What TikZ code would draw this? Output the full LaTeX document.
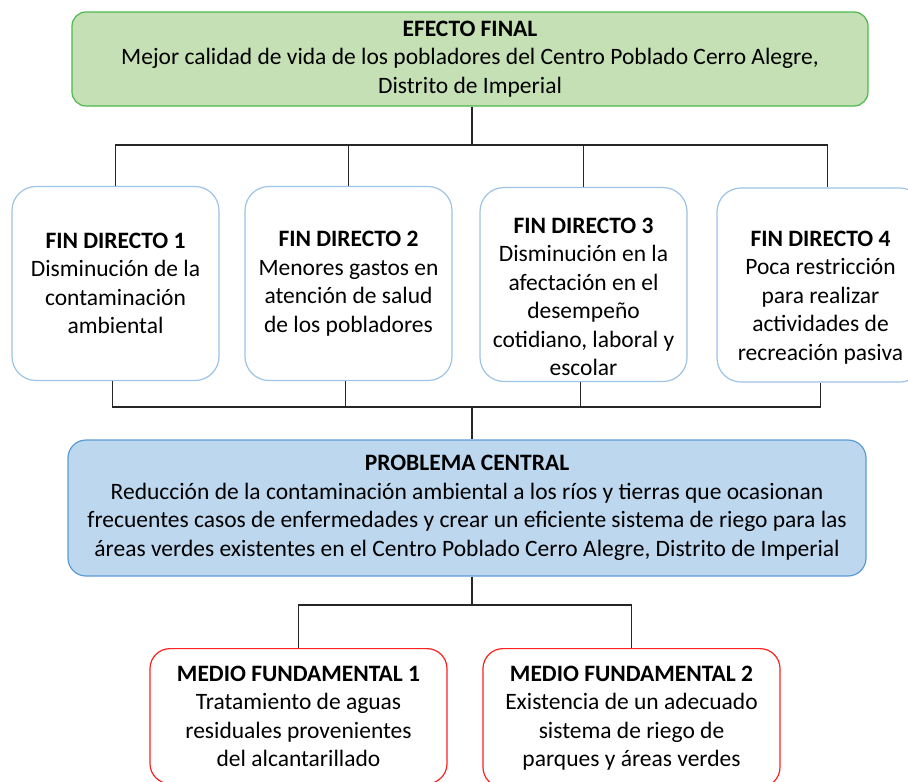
\documentclass[tikz,border=0pt]{standalone}
\usepackage{fontspec}
\setmainfont{Carlito}
\definecolor{effill}{HTML}{C5E0B4}
\definecolor{efdraw}{HTML}{4DB84D}
\definecolor{fddraw}{HTML}{9DC3E6}
\definecolor{pcfill}{HTML}{BDD7EE}
\definecolor{pcdraw}{HTML}{5B9BD5}
\definecolor{mfdraw}{HTML}{FF2020}
\newcommand{\lowtop}{\rule{0pt}{40pt}}
\begin{document}
\begin{tikzpicture}[x=1pt,y=-1pt,font=\fontsize{23.5}{28.5}\selectfont]
      \useasboundingbox (0,0) rectangle (908,782);
      \begin{scope}[every node/.style={draw=efdraw,fill=effill,line width=1.2pt,rounded corners=14pt,align=center,inner sep=0pt}]
        \node[minimum width=796pt,minimum height=94pt] (ef) at (470,59)
          {\textbf{EFECTO FINAL}\\Mejor calidad de vida de los pobladores del Centro Poblado Cerro Alegre,\\Distrito de Imperial};
      \end{scope}
      \begin{scope}[every node/.style={draw=fddraw,fill=white,line width=1.2pt,rounded corners=24pt,align=center,inner sep=0pt,minimum width=207pt,minimum height=194pt}]
        \node (fd_1) at (115.5,283.5) {\textbf{FIN DIRECTO 1}\\Disminución de la\\contaminación\\ambiental};
        \node (fd_2) at (348.5,283.5) {\textbf{FIN DIRECTO 2}\\Menores gastos en\\atención de salud\\de los pobladores};
        \node (fd_3) at (583.5,284.5) {\lowtop\textbf{FIN DIRECTO 3}\\Disminución en la\\afectación en el\\desempeño\\cotidiano, laboral y\\escolar};
        \node (fd_4) at (820.5,285) {\lowtop\textbf{FIN DIRECTO 4}\\Poca restricción\\para realizar\\actividades de\\recreación pasiva};
      \end{scope}
      \begin{scope}[every node/.style={draw=pcdraw,fill=pcfill,line width=1.2pt,rounded corners=18pt,align=center,inner sep=0pt}]
        \node[minimum width=798pt,minimum height=136pt] (pc) at (467,508)
          {\textbf{PROBLEMA CENTRAL}\\Reducción de la contaminación ambiental a los ríos y tierras que ocasionan\\frecuentes casos de enfermedades y crear un eficiente sistema de riego para las\\áreas verdes existentes en el Centro Poblado Cerro Alegre, Distrito de Imperial};
      \end{scope}
      \begin{scope}[every node/.style={draw=mfdraw,fill=white,line width=1.2pt,rounded corners=20pt,align=center,inner xsep=0pt,inner ysep=17pt,minimum width=297pt,anchor=north}]
        \node (mf_1) at (298.5,648) {\textbf{MEDIO FUNDAMENTAL 1}\\Tratamiento de aguas\\residuales provenientes\\del alcantarillado};
        \node (mf_2) at (631.5,648) {\textbf{MEDIO FUNDAMENTAL 2}\\Existencia de un adecuado\\sistema de riego de\\parques y áreas verdes};
      \end{scope}
      \coordinate (t_j) at (472,145);
      \coordinate (b_j) at (472,407);
      \coordinate (m_j) at (472,605);
      \begin{scope}[line width=1.1pt,draw=black!85]
        % efecto final -> fines directos
        \draw (t_j |- ef.south) -- (t_j);
        \draw (fd_1.north) -- (fd_1.north |- t_j) -- ([xshift=7pt]fd_4.north |- t_j) -- ([xshift=7pt]fd_4.north);
        \draw (fd_2.north) -- (fd_2.north |- t_j);
        \draw (fd_3.north) -- (fd_3.north |- t_j);
        % fines directos -> problema central
        \draw ([xshift=-3pt]fd_1.south) -- ([xshift=-3pt]fd_1.south |- b_j) -- (fd_4.south |- b_j) -- (fd_4.south);
        \draw ([xshift=-3pt]fd_2.south) -- ([xshift=-3pt]fd_2.south |- b_j);
        \draw ([xshift=-3pt]fd_3.south) -- ([xshift=-3pt]fd_3.south |- b_j);
        \draw (b_j) -- (b_j |- pc.north);
        % problema central -> medios
        \draw (m_j |- pc.south) -- (m_j);
        \draw (mf_1.north) -- (mf_1.north |- m_j) -- (mf_2.north |- m_j) -- (mf_2.north);
      \end{scope}
\end{tikzpicture}
\end{document}
